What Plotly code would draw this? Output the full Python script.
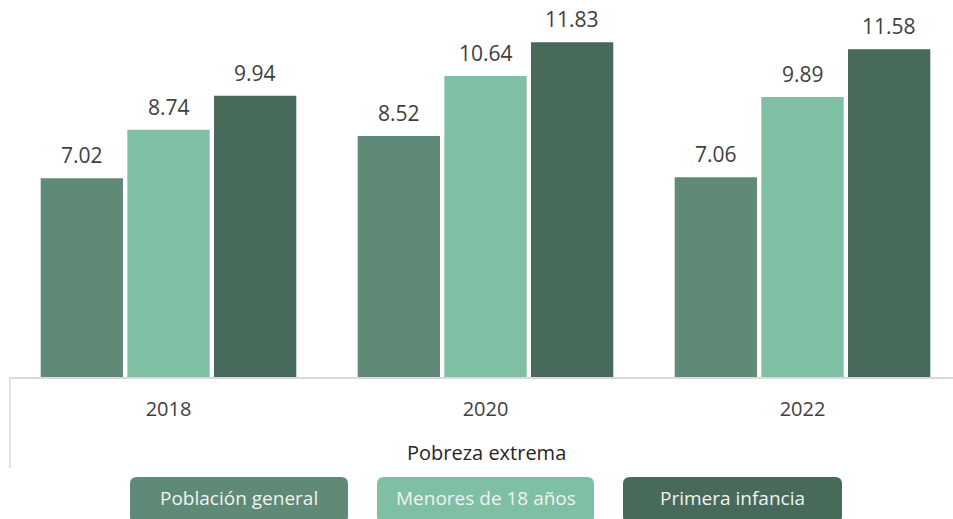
import plotly.graph_objects as go

years = ["2018", "2020", "2022"]
poblacion_general = [7.02, 8.52, 7.06]
menores_18 = [8.74, 10.64, 9.89]
primera_infancia = [9.94, 11.83, 11.58]

series_names = ["Población general", "Menores de 18 años", "Primera infancia"]
colors = ["#5f8a78", "#7fbfa3", "#486a5a"]
axis_title = "Pobreza extrema"

FONT = "Open Sans"
W, H = 953, 519
ML, MR, MT, MB = 10, 0, 10, 142
BARGAP, GROUPGAP = 0.18, 0.05

all_series = [poblacion_general, menores_18, primera_infancia]

fig = go.Figure()
for name, vals, col in zip(series_names, all_series, colors):
    fig.add_trace(go.Bar(
        x=years, y=vals, name=name,
        marker=dict(color=col, line=dict(width=0)),
        showlegend=False, hoverinfo="x+y+name",
    ))

# value labels above each bar (grouped offsets from layout gaps)
slot = (1 - BARGAP) / len(all_series)
for j, vals in enumerate(all_series):
    off = (j - (len(all_series) - 1) / 2) * slot
    for i, v in enumerate(vals):
        fig.add_annotation(x=i + off, y=v, xref="x", yref="y",
                           text=f"{v:.2f}", showarrow=False,
                           xanchor="center", yanchor="bottom", yshift=7,
                           font=dict(family=FONT, size=21, color="#404040"))

plot_w = W - ML - MR
ph = H - MT - MB
fig.update_layout(
    width=W, height=H,
    margin=dict(l=ML, r=MR, t=MT, b=MB),
    paper_bgcolor="white", plot_bgcolor="white",
    barmode="group", bargap=BARGAP, bargroupgap=GROUPGAP,
    font=dict(family=FONT, color="#404040"),
    xaxis=dict(
        type="category",
        range=[-0.5, -0.5 + plot_w / 317.0],
        showline=True, linecolor="#d9d9d9", linewidth=1.5,
        ticks="", ticklabelstandoff=13,
        tickfont=dict(family=FONT, size=20, color="#404040"),
        showgrid=False, zeroline=False,
    ),
    yaxis=dict(
        range=[0, ph / 28.3],
        visible=False, showgrid=False, zeroline=False,
    ),
)

# category-axis left boundary line
fig.add_shape(type="line", xref="paper", yref="paper",
              x0=0, x1=0, y0=0, y1=-(468 - 377) / ph,
              line=dict(color="#d9d9d9", width=1.5))

def px2x(px):
    return (px - ML) / plot_w
def py2y(py):
    return (H - MB - py) / ph

# axis title
fig.add_annotation(text=axis_title, xref="paper", yref="paper",
                   x=px2x(486), y=py2y(452),
                   xanchor="center", yanchor="middle", showarrow=False,
                   font=dict(family=FONT, size=20, color="#262626"))

# legend drawn as rounded boxes
boxes = [(130, 348), (377, 594), (623, 842)]
top, bot, r = 477, 523, 7
for (x0, x1), name, col in zip(boxes, series_names, colors):
    path = (f"M {px2x(x0 + r)} {py2y(top)} L {px2x(x1 - r)} {py2y(top)} "
            f"Q {px2x(x1)} {py2y(top)} {px2x(x1)} {py2y(top + r)} "
            f"L {px2x(x1)} {py2y(bot - r)} Q {px2x(x1)} {py2y(bot)} {px2x(x1 - r)} {py2y(bot)} "
            f"L {px2x(x0 + r)} {py2y(bot)} Q {px2x(x0)} {py2y(bot)} {px2x(x0)} {py2y(bot - r)} "
            f"L {px2x(x0)} {py2y(top + r)} Q {px2x(x0)} {py2y(top)} {px2x(x0 + r)} {py2y(top)} Z")
    fig.add_shape(type="path", xref="paper", yref="paper", path=path,
                  fillcolor=col, line=dict(width=0))
    fig.add_annotation(text=name, xref="paper", yref="paper",
                       x=px2x((x0 + x1) / 2), y=py2y(498),
                       xanchor="center", yanchor="middle", showarrow=False,
                       font=dict(family=FONT, size=19, color="#f2f2f2"))

fig.write_html("out.html", config={"displayModeBar": False})

# remove default page margin so the figure sits at the window's top-left
with open("out.html", "r", encoding="utf-8") as f:
    html = f.read()
html = html.replace("<head>", "<head><style>html,body{margin:0;padding:0;overflow:hidden;}</style>", 1)
with open("out.html", "w", encoding="utf-8") as f:
    f.write(html)
